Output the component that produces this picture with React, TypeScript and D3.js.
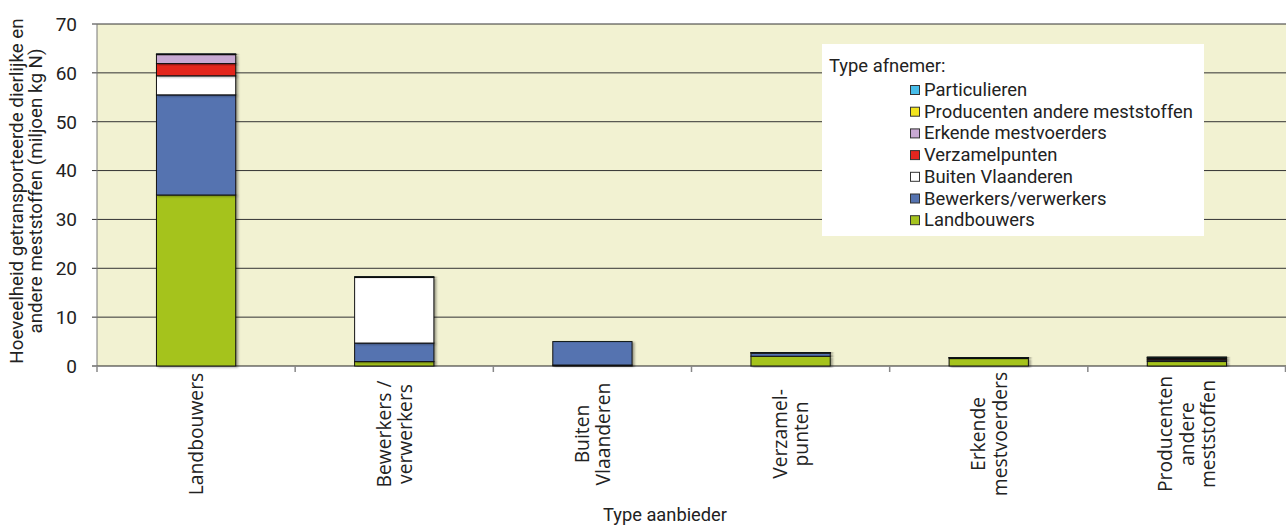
import React from "react";
import * as d3 from "d3";

const categories: string[][] = [
  ["Landbouwers"],
  ["Bewerkers /", "verwerkers"],
  ["Buiten", "Vlaanderen"],
  ["Verzamel-", "punten"],
  ["Erkende", "mestvoerders"],
  ["Producenten", "andere", "meststoffen"],
];

const seriesNames = [
  "Landbouwers",
  "Bewerkers/verwerkers",
  "Buiten Vlaanderen",
  "Verzamelpunten",
  "Erkende mestvoerders",
  "Producenten andere meststoffen",
  "Particulieren",
];
const seriesColors = ["#a5c31e", "#5573b0", "#ffffff", "#e3261f", "#c8a9d2", "#f3e41d", "#47bde9"];

const landbouwers = [35.0, 0.9, 0.2, 2.0, 1.5, 0.9];
const bewerkers = [20.5, 3.8, 4.8, 0.6, 0.2, 0.3];
const buitenVlaanderen = [3.9, 13.4, 0.0, 0.1, 0.0, 0.2];
const verzamelpunten = [2.5, 0.0, 0.0, 0.0, 0.0, 0.1];
const erkende = [1.8, 0.0, 0.0, 0.1, 0.05, 0.2];
const producenten = [0.05, 0.0, 0.0, 0.0, 0.0, 0.1];
const particulieren = [0.15, 0.2, 0.0, 0.05, 0.05, 0.05];

const seriesValues = [landbouwers, bewerkers, buitenVlaanderen, verzamelpunten, erkende, producenten, particulieren];

const yTicks = [0, 10, 20, 30, 40, 50, 60, 70];

const W = 1286;
const H = 527;
const left = 97;
const right = 1286;
const top = 24;
const bottom = 366;

export default function App() {
  const x = d3.scaleBand<number>().domain(d3.range(categories.length)).range([left, right]).paddingInner(0).paddingOuter(0);
  const y = d3.scaleLinear().domain([0, 70]).range([bottom, top]);
  const bw = x.bandwidth() * 0.4;

  const rows = categories.map((_, i) => {
    const r: Record<string, number> = {};
    seriesNames.forEach((s, k) => (r[s] = seriesValues[k][i]));
    return r;
  });
  const stacked = d3.stack<Record<string, number>>().keys(seriesNames)(rows);

  const dinFont = "Roboto, 'DejaVu Sans', sans-serif";
  const narrowFont = "'Liberation Sans Narrow', Roboto, sans-serif";
  const catFont = "'Open Sans', 'DejaVu Sans', sans-serif";

  const legendX = 822;
  const legendY = 44;
  const legendItems = seriesNames.slice().reverse();

  return (
    <svg width={W} height={H} style={{ position: "absolute", left: 0, top: 0, background: "#ffffff" }}>
      <defs>
        <filter id="sh" x="-10%" y="-10%" width="130%" height="130%">
          <feDropShadow dx="2" dy="1" stdDeviation="0.8" floodColor="#000" floodOpacity="0.35" />
        </filter>
      </defs>
      <rect x={left} y={top} width={right - left} height={bottom - top} fill="#f2f2d2" />
      {yTicks.map((t) => (
        <g key={t}>
          <line x1={left - 5} x2={right} y1={y(t)} y2={y(t)} stroke={t === 0 ? "#222" : "#333"} strokeWidth={1} />
          <text x={77} y={y(t)} dy="0.36em" textAnchor="end" fontFamily={narrowFont} fontSize={19} fill="#222">
            {t}
          </text>
        </g>
      ))}
      <line x1={left} x2={left} y1={top} y2={bottom} stroke="#777" strokeWidth={1} />
      {d3.range(categories.length + 1).map((i) => {
        const xx = i < categories.length ? (x(i) as number) : right - 0.5;
        return <line key={i} x1={xx} x2={xx} y1={bottom} y2={bottom + 6} stroke="#888" strokeWidth={1.5} />;
      })}
      {stacked.map((layer, k) => (
        <g key={k}>
          {layer.map((d, i) => {
            const h = y(d[0]) - y(d[1]);
            if (h <= 0) return null;
            return (
              <rect
                key={i}
                x={(x(i) as number) + (x.bandwidth() - bw) / 2}
                y={y(d[1])}
                width={bw}
                height={h}
                fill={seriesColors[k]}
                stroke="#111"
                strokeWidth={1}
                filter="url(#sh)"
              />
            );
          })}
        </g>
      ))}
      {categories.map((lines, i) => {
        const cx = (x(i) as number) + x.bandwidth() / 2;
        const n = lines.length;
        return (
          <text
            key={i}
            transform={`translate(${cx},434) rotate(-90)`}
            textAnchor="middle"
            fontFamily={catFont}
            fontSize={19.3}
            fill="#222"
          >
            {lines.map((l, j) => (
              <tspan key={j} x={0} y={(j - (n - 1) / 2) * 21.5 + 7}>
                {l}
              </tspan>
            ))}
          </text>
        );
      })}
      <text x={665} y={521} textAnchor="middle" fontFamily={dinFont} fontSize={18.3} fill="#222">
        Type aanbieder
      </text>
      <text transform="translate(0,191) rotate(-90)" textAnchor="middle" fontFamily={dinFont} fontSize={18.8} fill="#222">
        <tspan x={0} y={22.5}>Hoeveelheid getransporteerde dierlijke en</tspan>
        <tspan x={0} y={42}>andere meststoffen (miljoen kg N)</tspan>
      </text>
      <rect x={legendX} y={legendY} width={382} height={192} fill="#ffffff" />
      <text x={829} y={72} fontFamily={dinFont} fontSize={18.4} fill="#222">
        Type afnemer:
      </text>
      {legendItems.map((s, j) => {
        const k = seriesNames.indexOf(s);
        const yy = 96 + j * 21.7;
        return (
          <g key={s}>
            <rect x={910.5} y={yy - 10.5} width={9} height={9} fill={seriesColors[k]} stroke="#333" strokeWidth={1} />
            <text x={924} y={yy} fontFamily={dinFont} fontSize={18.4} fill="#222">
              {s}
            </text>
          </g>
        );
      })}
    </svg>
  );
}
